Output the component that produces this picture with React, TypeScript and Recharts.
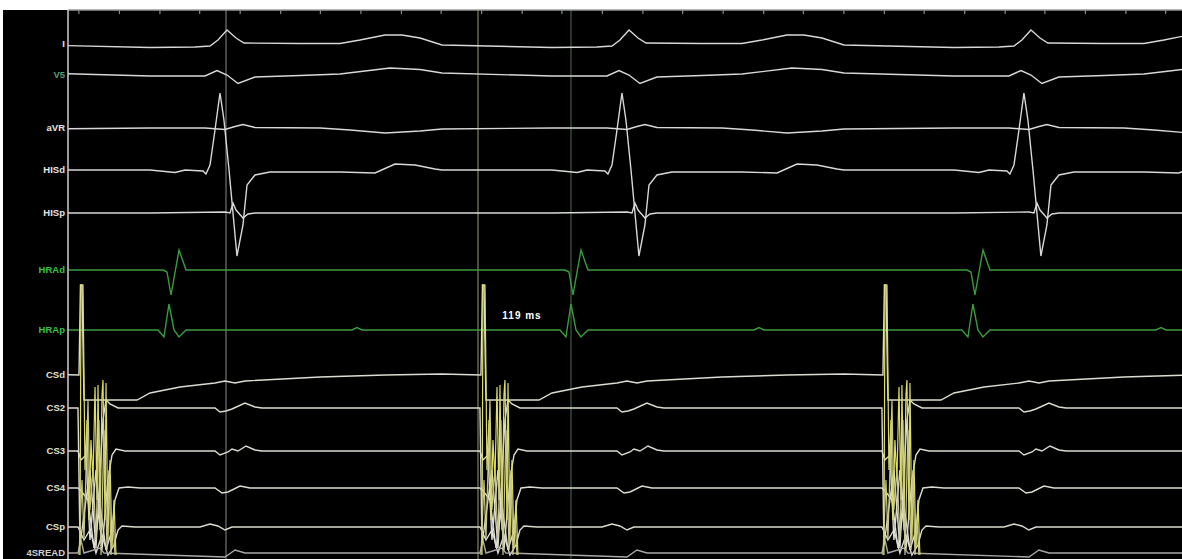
import React from 'react';
import { LineChart, Line, XAxis, YAxis, ReferenceLine, ReferenceDot } from 'recharts';

// stimulus times (ms)
const stimTimes = [15.4, 531.4, 1047.4];

// unlabeled timing ticks along the top edge (ms)
const tickTimes = [14, 66, 118, 169, 221, 273, 324, 376, 428, 479, 531, 583, 634, 686, 738, 789, 841, 893, 944, 996, 1048, 1099, 1151, 1203, 1254, 1306, 1358, 1409];

// cursor positions (ms)
const cursorTimes = [202.8, 526.3, 645.7];
const intervalLabel = '119 ms';

// each beat: [ms from stimulus, mV]
const leadI = [[-51.3, -0.05], [89.9, -0.175], [147.6, -0.15], [166.9, -0.1], [177.1, 0.2], [188.7, 0.7], [200.3, 0.3], [210.5, 0.05], [282.4, 0.025], [333.8, 0.025], [359.4, 0.2], [391.5, 0.45], [413.3, 0.45], [436.5, 0.3], [464.7, -0.05]];
const leadV5 = [[-51.3, 0.1], [89.9, -0.05], [160.5, -0.05], [175.9, 0.225], [188.7, 0], [202.8, -0.425], [224.6, -0.1], [282.4, -0.025], [333.8, 0.05], [397.9, 0.35], [436.5, 0.275], [464.7, 0.1]];
const leadAVR = [[-51.3, -0.05], [89.9, 0], [160.5, 0], [186.1, -0.075], [199, 0.075], [209.2, 0.175], [224.6, 0.025], [308.1, 0], [346.6, -0.1], [391.5, -0.25], [436.5, -0.15], [464.7, -0.05]];
const hisD = [[-51.3, 0], [89.9, 0], [122, -0.125], [134.8, 0], [157.9, -0.05], [161.7, -0.2], [166.9, 0.25], [173.3, 2.0], [179.7, 3.85], [184.8, 2.5], [191.3, 0], [201.5, -4.3], [209.2, -2.75], [214.4, -0.75], [224.6, -0.25], [243.9, -0.1], [333.8, -0.1], [378.7, -0.15], [404.4, 0.3], [430, 0.25], [455.7, 0.05], [464.7, 0]];
const hisP = [[-51.3, 0], [89.9, 0], [186.1, 0.05], [192.6, 0], [196.4, 0.5], [200.3, 0.15], [209.2, -0.25], [215.7, -0.05], [224.6, 0], [464.7, 0]];
const hraD = [[-51.3, 0], [106.5, 0], [111.7, -0.1], [116.8, -1.25], [127.1, 1.0], [136.1, 0], [464.7, 0]];
const hraP = [[-51.3, 0], [100.1, 0], [107.8, -0.35], [114.2, 1.3], [120.7, 0], [127.1, -0.35], [136.1, 0], [349.2, 0], [355.6, 0.12], [362, 0], [464.7, 0]];
const csD = [[-51.3, 0.05], [-1.3, 0], [0.6, 4.5], [2.6, 4.5], [5.1, -1.25], [73.2, -1.25], [89.9, -0.9], [128.4, -0.6], [173.3, -0.4], [186.1, -0.3], [199, -0.4], [211.8, -0.3], [308.1, -0.1], [391.5, 0], [464.7, 0.05]];
const cs2 = [[-51.3, 0], [-2.6, 0], [0, -6.85], [12.8, -3.1], [20.5, -7.0], [29.5, -0.6], [33.4, 0.4], [38.5, 0.2], [48.8, 0], [173.3, 0], [179.7, -0.2], [187.4, -0.15], [195.1, -0.05], [211.8, 0.25], [224.6, 0.05], [233.6, 0], [464.7, 0]];
const cs3 = [[-51.3, 0], [-2.6, 0], [1.3, -0.45], [7.7, -0.2], [12.8, -4.45], [20.5, -0.95], [28.2, -4.95], [35.9, -1.45], [41.1, -0.2], [46.2, 0.1], [57.8, 0], [173.3, 0], [179.7, -0.2], [190, -0.05], [195.1, 0.1], [202.8, 0], [213.1, 0.25], [224.6, 0.05], [233.6, 0], [464.7, 0]];
const cs4 = [[-51.3, 0], [-2.6, 0], [2.6, -0.2], [10.3, -0.6], [18, -3.0], [25.7, -0.85], [33.4, -3.1], [41.1, -2.1], [44.9, -0.6], [50.1, 0], [61.6, 0.05], [77, 0], [173.3, 0], [182.3, -0.25], [190, -0.2], [205.4, 0.1], [218.2, 0], [464.7, 0]];
const csP = [[-51.3, 0], [-2.6, 0], [5.1, -0.65], [12.8, -0.15], [20.5, -1.3], [28.2, -0.4], [35.9, -1.4], [43.6, -0.9], [48.8, -0.15], [53.9, 0.05], [70.6, 0], [154, 0], [166.9, 0.15], [177.1, 0.05], [186.1, -0.15], [195.1, 0], [464.7, 0]];
const readCh = [[-51.3, 0], [-2.6, 0], [1.3, 0.65], [5.1, 0], [25.7, 0.25], [30.8, 0], [186.1, -0.2], [199, 0.15], [211.8, 0], [464.7, 0]];

// pacing artifact ringing drawn over the CS block
const stimArtA = [[0, -5.2], [1.3, 8.3], [3.9, 8.3], [6.4, -0.95], [9, 1.55], [11.6, -3.45], [14.1, 0.55], [16.7, -1.45], [19.3, 3.2], [21.8, -2.45], [23.1, 3.3], [25.7, -3.95], [28.2, 2.8], [29.5, 3.55], [32.1, -3.45], [33.4, 3.4], [35.9, -4.45], [38.5, -0.45], [41.1, -4.85], [43.6, -2.45], [46.2, -5.2]];
const stimArtB = [[-1.3, -5.2], [2.6, -1.45], [5.1, -4.45], [10.3, 2.55], [12.8, -2.95], [16.7, -0.95], [20.5, -4.45], [24.4, 1.55], [27, -5.2], [30.8, 1.05], [34.7, -4.95], [37.2, -0.95], [39.8, -5.2], [42.4, -3.45], [44.9, -5.2]];

// layout: px per mV and the row each channel sits on
const GAIN = 20;
const WHITE = '#d8d8d8';
const GREEN = '#3a9c3e';
const CS = '#dcdcd0';
const channels = [
  { label: 'I', shape: leadI, base: 44, color: WHITE, labelColor: '#e6e6e6' },
  { label: 'V5', shape: leadV5, base: 75, color: WHITE, labelColor: '#5e9a70' },
  { label: 'aVR', shape: leadAVR, base: 128, color: WHITE, labelColor: '#e6e6e6' },
  { label: 'HISd', shape: hisD, base: 170, color: WHITE, labelColor: '#e6e6e6' },
  { label: 'HISp', shape: hisP, base: 213, color: WHITE, labelColor: '#e6e6e6' },
  { label: 'HRAd', shape: hraD, base: 270, color: GREEN, labelColor: '#34c244' },
  { label: 'HRAp', shape: hraP, base: 330, color: GREEN, labelColor: '#34c244' },
  { label: 'CSd', shape: csD, base: 375, color: CS, labelColor: '#e0e0cc' },
  { label: 'CS2', shape: cs2, base: 408, color: CS, labelColor: '#e0e0cc' },
  { label: 'CS3', shape: cs3, base: 451, color: CS, labelColor: '#e0e0cc' },
  { label: 'CS4', shape: cs4, base: 488, color: CS, labelColor: '#e0e0cc' },
  { label: 'CSp', shape: csP, base: 527, color: CS, labelColor: '#e0e0cc' },
  { label: '4SREAD', shape: readCh, base: 553, color: '#a8a8a8', labelColor: '#cfcfcf' },
];
const artifacts = [
  { shape: stimArtA, base: 451, color: '#dede62' },
  { shape: stimArtB, base: 451, color: '#c8c88a' },
];

const buildTrace = (shape: number[][], base: number) =>
  stimTimes.flatMap((s) => shape.map(([dt, mv]) => ({ t: s + dt, y: base - mv * GAIN })));

const buildBurst = (shape: number[][], base: number) =>
  stimTimes.flatMap((s) => [
    ...shape.map(([dt, mv]) => ({ t: s + dt, y: base - mv * GAIN })),
    { t: s + 60, y: null },
  ]);

const ChannelTick = (props: any) => {
  const { y, payload } = props;
  const ch = channels.find((c) => c.base === payload.value);
  if (!ch) return null;
  return (
    <text
      x={65}
      y={y - 1}
      textAnchor="end"
      dominantBaseline="central"
      fill={ch.labelColor}
      fontSize={9.5}
      fontWeight="bold"
      fontFamily="'Liberation Sans', Arial, sans-serif"
    >
      {ch.label}
    </text>
  );
};

export default function App() {
  return (
    <div style={{ position: 'relative', width: 1182, height: 559, background: '#ffffff', overflow: 'hidden' }}>
      <style>{'body{margin:0;}'}</style>
      <div style={{ position: 'absolute', left: 3, top: 10, width: 1179, height: 549, background: '#000000' }} />
      <div style={{ position: 'absolute', left: 0, top: 0 }}>
        <LineChart width={1182} height={559} margin={{ top: 10, right: 0, bottom: 0, left: 0 }}>
          <XAxis
            type="number"
            dataKey="t"
            orientation="top"
            domain={[0, 1430]}
            allowDataOverflow
            ticks={tickTimes}
            interval={0}
            height={10}
            mirror
            tick={{ fill: 'none' }}
            tickFormatter={() => ''}
            tickSize={4}
            tickLine={{ stroke: '#8a8a8a', strokeWidth: 1.2 }}
            axisLine={{ stroke: '#9a9a9a', strokeWidth: 1.5 }}
          />
          <YAxis
            type="number"
            domain={[10, 559]}
            reversed
            allowDataOverflow
            ticks={channels.map((c) => c.base)}
            interval={0}
            width={68}
            tickLine={false}
            axisLine={{ stroke: '#cfcfcf', strokeWidth: 1.5 }}
            tick={<ChannelTick />}
          />
          <ReferenceLine x={cursorTimes[0]} stroke="#8a8a8a" strokeWidth={1} />
          <ReferenceLine x={cursorTimes[1]} stroke="#9c9c80" strokeWidth={1} />
          <ReferenceLine x={cursorTimes[2]} stroke="#4d6e4f" strokeWidth={1} />
          {channels.map((c) => (
            <Line
              key={c.label}
              data={buildTrace(c.shape, c.base)}
              dataKey="y"
              type="linear"
              stroke={c.color}
              strokeWidth={1.4}
              dot={false}
              isAnimationActive={false}
            />
          ))}
          {artifacts.map((a, i) => (
            <Line
              key={'art' + i}
              data={buildBurst(a.shape, a.base)}
              dataKey="y"
              type="linear"
              stroke={a.color}
              strokeWidth={1.2}
              dot={false}
              connectNulls={false}
              isAnimationActive={false}
            />
          ))}
          <ReferenceDot
            x={582.8}
            y={315}
            r={2}
            fill="none"
            stroke="none"
            label={{ value: intervalLabel, position: 'center', fill: '#ffffff', fontSize: 10, fontWeight: 'bold', fontFamily: "'Liberation Sans', Arial, sans-serif", letterSpacing: 1 }}
          />
        </LineChart>
      </div>
    </div>
  );
}
